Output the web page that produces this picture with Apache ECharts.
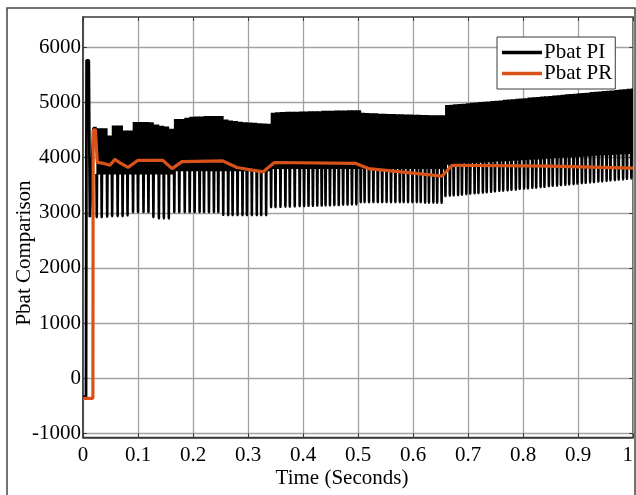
<!DOCTYPE html>
<html><head><meta charset="utf-8">
<script src="https://cdn.jsdelivr.net/npm/echarts@6/dist/echarts.min.js"></script>
<style>html,body{margin:0;padding:0;background:#fff}#c{width:636px;height:495px}</style>
</head><body><div id="c"></div>
<script>
const yTicks = [-1000, 0, 1000, 2000, 3000, 4000, 5000, 6000];
const legendNames = ['Pbat PI', 'Pbat PR'];

// Pbat PR (orange)
const prT = [0, 0.018, 0.0185, 0.0225, 0.026, 0.035, 0.049, 0.058, 0.068, 0.082, 0.100, 0.145, 0.162, 0.180, 0.254, 0.280, 0.327, 0.348, 0.495, 0.519, 0.653, 0.671, 0.846, 1.0];
const prV = [-360, -360, 4500, 4500, 3913, 3900, 3860, 3967, 3900, 3822, 3950, 3950, 3800, 3925, 3940, 3820, 3740, 3910, 3895, 3800, 3665, 3860, 3845, 3810];

// Pbat PI start-up transient
const piStartT = [0, 0.0055, 0.0065, 0.0105, 0.0125, 0.019, 0.025];
const piStartV = [-330, -330, 5760, 5760, 2920, 4530, 4530];

// Pbat PI ripple cycles: time of each dip, upper level, lower edge of dense band, dip minimum
const piCycleT = [0.025,0.034,0.044,0.053,0.063,0.072,0.081,0.091,0.100,0.110,0.119,0.128,0.138,0.147,0.156,0.166,0.175,0.185,0.194,
0.203,0.212,0.220,0.229,0.238,0.246,0.255,0.264,0.272,0.281,0.290,0.298,0.307,0.316,0.324,0.333,0.342,0.350,0.359,0.368,0.376,0.385,0.394,
0.402,0.410,0.418,0.426,0.434,0.441,0.449,0.457,0.465,0.473,0.481,0.489,0.497,0.505,0.512,0.520,0.528,0.536,0.544,0.552,0.560,0.568,0.576,0.583,0.591,0.599,
0.607,0.614,0.622,0.629,0.637,0.644,0.652,0.659,0.667,0.674,0.682,0.689,0.697,0.704,0.712,0.719,0.727,0.734,0.742,0.749,0.757,0.764,0.772,0.779,0.787,0.794,0.802,
0.809,0.817,0.824,0.832,0.839,0.847,0.854,0.862,0.869,0.877,0.884,0.892,0.899,0.907,0.914,0.922,0.929,0.937,0.944,0.952,0.959,0.967,0.974,0.982,0.989,0.997];
const piTop = [4530,4530,4400,4580,4580,4490,4490,4645,4645,4645,4640,4600,4575,4560,4520,4700,4700,4720,4740,
4745,4745,4750,4750,4750,4750,4690,4670,4660,4650,4640,4635,4630,4620,4615,4610,4810,4820,4825,4830,4830,4830,4835,
4835,4840,4840,4840,4845,4845,4845,4850,4850,4850,4855,4855,4855,4810,4805,4800,4800,4795,4795,4790,4790,4785,4785,4780,4780,4775,
4775,4770,4770,4768,4765,4765,4765,4950,4955,4965,4970,4975,4985,4990,4995,5005,5010,5015,5025,5030,5035,5045,5050,5055,5065,5070,5075,
5085,5090,5095,5105,5110,5115,5125,5130,5135,5145,5150,5155,5165,5170,5175,5185,5190,5195,5205,5210,5215,5225,5230,5235,5245,5250];
const piKnee = [3700,3700,3700,3700,3700,3700,3700,3700,3700,3700,3700,3700,3700,3700,3700,3760,3760,3760,3760,
3760,3760,3760,3760,3760,3760,3760,3760,3760,3760,3760,3760,3760,3760,3760,3760,3800,3800,3800,3800,3800,3800,3800,
3800,3800,3800,3800,3800,3800,3800,3800,3800,3800,3800,3800,3800,3800,3800,3800,3800,3800,3800,3800,3800,3800,3800,3800,3800,3800,
3800,3800,3800,3800,3800,3800,3800,3880,3885,3890,3895,3900,3900,3905,3910,3915,3920,3925,3930,3935,3940,3940,3945,3950,3955,3960,3965,
3970,3975,3975,3980,3985,3990,3995,4000,4005,4010,4010,4015,4020,4025,4030,4035,4040,4045,4045,4050,4055,4060,4065,4070,4075,4080];
const piTrough = [2900,2900,2910,2920,2920,2920,2930,2990,2990,2990,2990,2900,2880,2880,2880,2990,2990,2990,2990,
2990,2990,2990,2990,2990,2990,2940,2935,2935,2935,2935,2935,2935,2935,2935,2935,3080,3080,3085,3090,3090,3095,3100,
3100,3105,3105,3110,3110,3115,3115,3120,3120,3125,3125,3130,3130,3170,3170,3170,3170,3170,3170,3170,3170,3170,3170,3170,3170,3170,
3170,3170,3165,3165,3165,3165,3160,3280,3290,3295,3300,3310,3315,3325,3330,3335,3345,3350,3360,3365,3375,3380,3385,3395,3400,3410,3415,
3420,3430,3435,3445,3450,3460,3465,3470,3480,3485,3495,3500,3505,3515,3520,3530,3535,3545,3550,3555,3565,3570,3580,3585,3595,3600];

const FONT = 'Liberation Serif';
const ORANGE = '#D95319';
const GRID = '#a2a2a2';
const BOX = '#3a3a3a';

const chart = echarts.init(document.getElementById('c'), null, {renderer: 'canvas'});
const common = {fontFamily: FONT, fontSize: 21, color: '#000'};

chart.setOption({
  animation: false,
  backgroundColor: '#fff',
  textStyle: {fontFamily: FONT},
  grid: {left: 83, right: 2, top: 17, bottom: 57.5, show: true, borderColor: BOX, borderWidth: 1.5, backgroundColor: 'transparent'},
  xAxis: [{
    type: 'value', min: 0, max: 1, interval: 0.1, position: 'bottom',
    axisLine: {show: true, onZero: false, lineStyle: {color: BOX, width: 1.5}},
    axisTick: {show: true, inside: true, length: 4, lineStyle: {color: BOX}},
    axisLabel: Object.assign({margin: 7, alignMaxLabel: 'right', formatter: v => String(+v.toFixed(1))}, common),
    splitLine: {show: true, lineStyle: {color: GRID, width: 1.3}}
  }, {
    type: 'value', min: 0, max: 1, interval: 0.1, position: 'top',
    axisLine: {show: false, onZero: false}, axisTick: {show: true, inside: true, length: 4, lineStyle: {color: BOX}},
    axisLabel: {show: false}, splitLine: {show: false}
  }],
  yAxis: [{
    type: 'value', min: -1070, max: 6545, position: 'left',
    axisLine: {show: true, onZero: false, lineStyle: {color: BOX, width: 1.5}},
    axisTick: {show: true, inside: true, length: 4, lineStyle: {color: BOX}, customValues: yTicks},
    axisLabel: Object.assign({margin: 2, customValues: yTicks, formatter: v => String(v)}, common),
    splitLine: {show: true, lineStyle: {color: GRID, width: 1.3}}
  }, {
    type: 'value', min: -1070, max: 6545, position: 'right',
    axisLine: {show: false, onZero: false},
    axisTick: {show: true, inside: true, length: 4, lineStyle: {color: BOX}, customValues: yTicks},
    axisLabel: {show: false, customValues: yTicks}, splitLine: {show: false}
  }],
  legend: {
    orient: 'vertical', left: 497, top: 37, padding: [5, 3, 5, 5], itemGap: 0,
    itemWidth: 40, itemHeight: 3.5, selectedMode: false,
    backgroundColor: '#fff', borderColor: BOX, borderWidth: 1, borderRadius: 0,
    textStyle: {fontFamily: FONT, fontSize: 21, color: '#000', lineHeight: 20, padding: [0, 0, 0, -3]},
    data: [
      {name: legendNames[0], icon: 'rect', itemStyle: {color: '#000'}},
      {name: legendNames[1], icon: 'rect', itemStyle: {color: ORANGE}}
    ]
  },
  graphic: [
    {type: 'rect', shape: {x: 7, y: 8, width: 628, height: 495}, style: {fill: 'none', stroke: '#444', lineWidth: 1.5}, silent: true, z: -1},
    {type: 'text', x: 342, y: 478, style: {text: 'Time (Seconds)', fontFamily: FONT, fontSize: 21, fill: '#000', align: 'center', verticalAlign: 'middle'}},
    {type: 'text', x: 24.5, y: 253, rotation: Math.PI / 2, style: {text: 'Pbat Comparison', fontFamily: FONT, fontSize: 21, fill: '#000', align: 'center', verticalAlign: 'middle'}}
  ],
  series: [
    {
      type: 'line', name: legendNames[0], showSymbol: false, symbol: 'none', z: 2,
      lineStyle: {color: '#000', width: 2.8}, itemStyle: {color: '#000'},
      data: piStartT.map((t, i) => [t, piStartV[i]])
    },
    {
      type: 'custom', name: legendNames[0], z: 2, clip: true, silent: true,
      itemStyle: {color: '#000'},
      encode: {x: 0, y: [1, 2, 3]},
      data: piCycleT.map((t, i) => [t, piTop[i], piKnee[i], piTrough[i]]),
      renderItem: function (params, api) {
        const i = params.dataIndex;
        const t = api.value(0);
        const tn = i + 1 < piCycleT.length ? piCycleT[i + 1] : 1;
        const a = api.coord([t, api.value(1)]);
        const b = api.coord([tn, api.value(2)]);
        const k = api.coord([t, api.value(2)]);
        const r = api.coord([t, api.value(3)]);
        return {type: 'group', children: [
          {type: 'rect', shape: {x: a[0] - 0.4, y: a[1], width: b[0] - a[0] + 0.8, height: b[1] - a[1] + 0.5}, style: {fill: '#000'}},
          {type: 'polygon', shape: {points: [[k[0] - 1.6, k[1]], [k[0] - 1.3, r[1] - 2], [k[0] - 0.8, r[1]], [k[0] + 0.8, r[1]], [k[0] + 1.3, r[1] - 2], [k[0] + 1.6, k[1]]]}, style: {fill: '#000'}}
        ]};
      }
    },
    {
      type: 'line', name: legendNames[1], showSymbol: false, symbol: 'none', z: 3,
      lineStyle: {color: ORANGE, width: 3.2}, itemStyle: {color: ORANGE},
      data: prT.map((t, i) => [t, prV[i]])
    }
  ]
});
</script></body></html>
